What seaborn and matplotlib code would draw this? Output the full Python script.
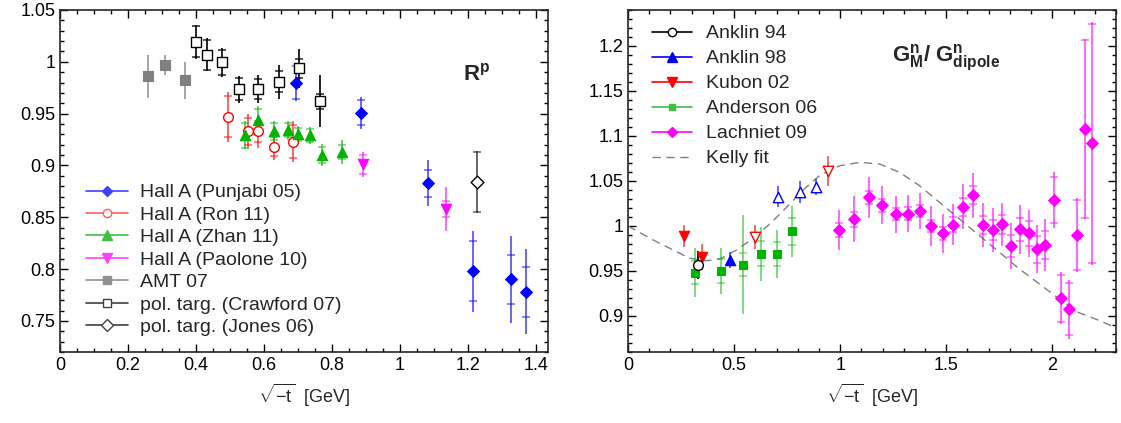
import numpy as np
import pandas as pd
import matplotlib
matplotlib.use("Agg")
import matplotlib.pyplot as plt
from matplotlib.lines import Line2D
from matplotlib.ticker import MultipleLocator
import seaborn as sns

# ---------------- data: left panel (R^p) ----------------
punjabi_x = [0.695, 0.885, 1.082, 1.215, 1.327, 1.370]
punjabi_y = [0.980, 0.951, 0.883, 0.798, 0.790, 0.778]
punjabi_tot = [0.018, 0.0155, 0.022, 0.039, 0.042, 0.041]
punjabi_stat = [0.016, 0.012, 0.013, 0.029, 0.024, 0.024]

ron_x = [0.493, 0.552, 0.584, 0.630, 0.685]
ron_y = [0.947, 0.933, 0.933, 0.918, 0.923]
ron_tot = [0.024, 0.0165, 0.016, 0.013, 0.020]
ron_stat = [0.020, 0.013, 0.010, 0.009, 0.016]

zhan_x = [0.543, 0.584, 0.630, 0.670, 0.700, 0.737, 0.771, 0.830]
zhan_y = [0.929, 0.944, 0.933, 0.934, 0.930, 0.929, 0.910, 0.913]
zhan_tot = [0.0136, 0.013, 0.010, 0.009, 0.008, 0.008, 0.011, 0.012]
zhan_stat = [0.012, 0.010, 0.008, 0.007, 0.006, 0.006, 0.008, 0.007]

paolone_x = [0.891, 1.137]
paolone_y = [0.901, 0.858]
paolone_tot = [0.012, 0.021]
paolone_stat = [0.009, 0.008]

amt_x = [0.260, 0.310, 0.368]
amt_y = [0.986, 0.997, 0.982]
amt_tot = [0.021, 0.010, 0.018]

crawford_x = [0.399, 0.434, 0.477, 0.527, 0.584, 0.643, 0.703, 0.766]
crawford_y = [1.0195, 1.0067, 0.9997, 0.9737, 0.9737, 0.9808, 0.9936, 0.9619]
crawford_tot = [0.0165, 0.016, 0.014, 0.013, 0.0136, 0.0165, 0.019, 0.025]
crawford_stat = [0.015, 0.0144, 0.012, 0.011, 0.010, 0.010, 0.009, 0.007]

jones_x = [1.227]
jones_y = [0.884]
jones_tot = [0.030]
jones_stat = [0.029]

# ---------------- data: right panel (G_M^n / G_dipole) ----------------
anklin94_x = [0.328]
anklin94_y = [0.957]
anklin94_tot = [0.0157]

anklin98_x = [0.483]
anklin98_y = [0.962]
anklin98_tot = [0.009]

xu_x = [0.709, 0.809, 0.885]
xu_y = [1.0326, 1.038, 1.043]
xu_tot = [0.0115, 0.012, 0.009]

kubon_x = [0.262, 0.350]
kubon_y = [0.989, 0.966]
kubon_tot = [0.0126, 0.0144]

kubon_open_x = [0.598, 0.944]
kubon_open_y = [0.988, 1.061]
kubon_open_tot = [0.0135, 0.0167]

anderson_x = [0.317, 0.439, 0.544, 0.629, 0.704, 0.772]
anderson_y = [0.948, 0.950, 0.957, 0.969, 0.969, 0.994]
anderson_tot = [0.027, 0.026, 0.055, 0.030, 0.027, 0.0285]
anderson_stat = [0.013, 0.013, 0.013, 0.014, 0.0135, 0.015]

lachniet_x = [0.993, 1.065, 1.135, 1.197, 1.261, 1.319, 1.374, 1.430, 1.483,
              1.532, 1.581, 1.628, 1.675, 1.719, 1.763, 1.806, 1.846, 1.889,
              1.928, 1.967, 2.006, 2.043, 2.080, 2.116, 2.153, 2.186]
lachniet_y = [0.9956, 1.0074, 1.0318, 1.0230, 1.0130, 1.0137, 1.0167, 1.0000,
              0.9919, 1.0015, 1.0214, 1.0344, 1.0011, 0.9956, 1.0019, 0.9778,
              0.9963, 0.9919, 0.9741, 0.9789, 1.0289, 0.9196, 0.9074, 0.9900,
              1.1074, 1.0919]
lachniet_tot = [0.0226, 0.0256, 0.0231, 0.0209, 0.0207, 0.0209, 0.0204, 0.0217,
                0.0219, 0.0228, 0.0250, 0.0250, 0.0240, 0.0246, 0.0240, 0.0256,
                0.0269, 0.0263, 0.0265, 0.0287, 0.0309, 0.0290, 0.0328, 0.0406,
                0.1000, 0.1350]
lachniet_stat = [0.008, 0.008, 0.007, 0.007, 0.0065, 0.0075, 0.007, 0.007,
                 0.007, 0.008, 0.010, 0.0105, 0.010, 0.011, 0.0105, 0.0125,
                 0.013, 0.014, 0.015, 0.016, 0.0256, 0.0265, 0.029, 0.039,
                 0.099, 0.133]

kelly_x = [0.0, 0.119, 0.213, 0.292, 0.370, 0.433, 0.511, 0.590, 0.668, 0.747,
           0.825, 0.904, 0.998, 1.092, 1.186, 1.280, 1.374, 1.468, 1.562,
           1.656, 1.751, 1.845, 1.939, 2.033, 2.127, 2.221, 2.300]
kelly_y = [1.000, 0.9844, 0.9733, 0.9640, 0.9614, 0.9633, 0.9733, 0.9863,
           1.0022, 1.0207, 1.0400, 1.0563, 1.0670, 1.0707, 1.0689, 1.0596,
           1.0448, 1.0263, 1.0078, 0.9893, 0.9707, 0.9522, 0.9356, 0.9189,
           0.9035, 0.8950, 0.8870]

# ---------------- style ----------------
sns.set_style("ticks")
plt.rcParams["font.family"] = ["Liberation Sans", "DejaVu Sans"]
plt.rcParams["mathtext.fontset"] = "custom"
plt.rcParams["mathtext.rm"] = "Liberation Sans"
plt.rcParams["mathtext.it"] = "Liberation Sans:italic"
plt.rcParams["mathtext.bf"] = "Liberation Sans:bold"
plt.rcParams["axes.linewidth"] = 1.2

BLUE = "#0000ff"
RED = "#ff0000"
GREEN = "#00b400"
MAGENTA = "#ff00ff"
GRAY = "#808080"
BLACK = "#000000"

fig = plt.figure(figsize=(11.21, 4.23), dpi=100)
W, H = 1121.0, 423.0
axL = fig.add_axes([60 / W, (H - 352) / H, 488 / W, 342 / H])
axR = fig.add_axes([628 / W, (H - 352) / H, 488 / W, 342 / H])


def draw(ax, x, y, tot, stat, color, marker, ms, filled=True, ealpha=0.6, ecolor=None):
    ec = ecolor if ecolor is not None else color
    ax.errorbar(x, y, yerr=tot, fmt="none", ecolor=ec, elinewidth=1.4,
                alpha=ealpha, capsize=0, zorder=2)
    if stat is not None:
        ax.errorbar(x, y, yerr=stat, fmt="none", ecolor=ec, elinewidth=0,
                    capsize=3.2, capthick=1.1, alpha=ealpha, zorder=2)
    df = pd.DataFrame({"x": x, "y": y})
    if filled:
        sns.scatterplot(data=df, x="x", y="y", marker=marker, s=ms ** 2,
                        color=color, edgecolor=color, linewidth=0.8,
                        ax=ax, zorder=3, legend=False)
    else:
        sns.scatterplot(data=df, x="x", y="y", marker=marker, s=ms ** 2,
                        facecolors="white", edgecolor=color, linewidth=1.0,
                        ax=ax, zorder=3, legend=False)


# left panel
draw(axL, amt_x, amt_y, amt_tot, None, GRAY, "s", 6.5, ealpha=0.7)
draw(axL, crawford_x, crawford_y, crawford_tot, crawford_stat, BLACK, "s", 7, filled=False, ealpha=0.85)
draw(axL, ron_x, ron_y, ron_tot, ron_stat, RED, "o", 7, filled=False)
draw(axL, zhan_x, zhan_y, zhan_tot, zhan_stat, GREEN, "^", 7.5)
draw(axL, paolone_x, paolone_y, paolone_tot, paolone_stat, MAGENTA, "v", 7.5)
draw(axL, punjabi_x, punjabi_y, punjabi_tot, punjabi_stat, BLUE, "D", 6)
draw(axL, jones_x, jones_y, jones_tot, jones_stat, BLACK, "D", 6.5, filled=False, ealpha=0.6)

# right panel
sns.lineplot(x=kelly_x, y=kelly_y, color=GRAY, linewidth=1.0,
             linestyle=(0, (6, 4)), ax=axR, zorder=1)
draw(axR, anderson_x, anderson_y, anderson_tot, anderson_stat, GREEN, "s", 5.5, ealpha=0.5)
draw(axR, kubon_x, kubon_y, kubon_tot, None, RED, "v", 7.5)
draw(axR, kubon_open_x, kubon_open_y, kubon_open_tot, None, RED, "v", 7.5, filled=False)
draw(axR, anklin98_x, anklin98_y, anklin98_tot, None, BLUE, "^", 7.5)
draw(axR, xu_x, xu_y, xu_tot, None, BLUE, "^", 7.5, filled=False)
draw(axR, anklin94_x, anklin94_y, anklin94_tot, None, BLACK, "o", 7, filled=False, ealpha=0.9)
draw(axR, lachniet_x, lachniet_y, lachniet_tot, lachniet_stat, MAGENTA, "D", 6)

# axes formatting
for ax in (axL, axR):
    ax.tick_params(which="both", direction="in", top=True, right=True,
                   labelsize=13, width=1.0, colors="black")
    ax.tick_params(which="major", length=6)
    ax.tick_params(which="minor", length=3)
    ax.set_xlabel(r"$\sqrt{-\mathrm{t}}$  [GeV]", fontsize=13, labelpad=6)
    ax.set_ylabel("")
    for s in ax.spines.values():
        s.set_visible(True)
        s.set_linewidth(1.2)

axL.set_xlim(0, 1.436)
axL.set_ylim(0.72, 1.05)
axL.xaxis.set_major_locator(MultipleLocator(0.2))
axL.xaxis.set_minor_locator(MultipleLocator(0.05))
axL.yaxis.set_major_locator(MultipleLocator(0.05))
axL.yaxis.set_minor_locator(MultipleLocator(0.01))
axL.set_xticks([0, 0.2, 0.4, 0.6, 0.8, 1.0, 1.2, 1.4])
axL.set_xticklabels(["0", "0.2", "0.4", "0.6", "0.8", "1", "1.2", "1.4"])
axL.set_yticks([0.75, 0.8, 0.85, 0.9, 0.95, 1.0, 1.05])
axL.set_yticklabels(["0.75", "0.8", "0.85", "0.9", "0.95", "1", "1.05"])

axR.set_xlim(0, 2.3)
axR.set_ylim(0.86, 1.24)
axR.xaxis.set_minor_locator(MultipleLocator(0.1))
axR.yaxis.set_minor_locator(MultipleLocator(0.01))
axR.set_xticks([0, 0.5, 1.0, 1.5, 2.0])
axR.set_xticklabels(["0", "0.5", "1", "1.5", "2"])
axR.set_yticks([0.9, 0.95, 1.0, 1.05, 1.1, 1.15, 1.2])
axR.set_yticklabels(["0.9", "0.95", "1", "1.05", "1.1", "1.15", "1.2"])

axL.text(0.826, 0.795, r"$\mathbf{R^p}$", transform=axL.transAxes,
         fontsize=16, va="baseline", ha="left")
axR.text(0.542, 0.85, r"$\mathbf{G^n_M/\ G^n_{dipole}}$", transform=axR.transAxes,
         fontsize=16, va="baseline", ha="left")

# legends
def h(color, marker, filled=True, ms=6, ls="-"):
    return Line2D([0], [0], color=color, alpha=1.0, lw=1.2, ls=ls, marker=marker,
                  markersize=ms, markerfacecolor=(color if filled else "white"),
                  markeredgecolor=color)

left_handles = [h("#4040ff", "D", ms=5.5), h("#ff6060", "o", False, ms=6),
                h("#40c040", "^", ms=6.5), h("#ff40ff", "v", ms=6.5),
                h("#909090", "s", ms=6), h("#404040", "s", False, ms=6),
                h("#404040", "D", False, ms=6)]
left_labels = ["Hall A (Punjabi 05)", "Hall A (Ron 11)", "Hall A (Zhan 11)",
               "Hall A (Paolone 10)", "AMT 07", "pol. targ. (Crawford 07)",
               "pol. targ. (Jones 06)"]
axL.legend(left_handles, left_labels, loc="upper left",
           bbox_to_anchor=(0.053, 0.492), frameon=False, fontsize=14,
           handlelength=2.15, handletextpad=0.65, labelspacing=0.25,
           borderaxespad=0, borderpad=0, numpoints=1)

right_handles = [h(BLACK, "o", False, ms=6), h(BLUE, "^", ms=6.5),
                 h(RED, "v", ms=6.5), h("#40c040", "s", ms=5),
                 h(MAGENTA, "D", ms=5.5),
                 Line2D([0], [0], color=GRAY, lw=1.0, ls=(0, (6, 4)))]
right_labels = ["Anklin 94", "Anklin 98", "Kubon 02", "Anderson 06",
                "Lachniet 09", "Kelly fit"]
axR.legend(right_handles, right_labels, loc="upper left",
           bbox_to_anchor=(0.049, 0.957), frameon=False, fontsize=14,
           handlelength=2.05, handletextpad=0.75, labelspacing=0.38,
           borderaxespad=0, borderpad=0, numpoints=1)

fig.savefig("out.png", dpi=100)
